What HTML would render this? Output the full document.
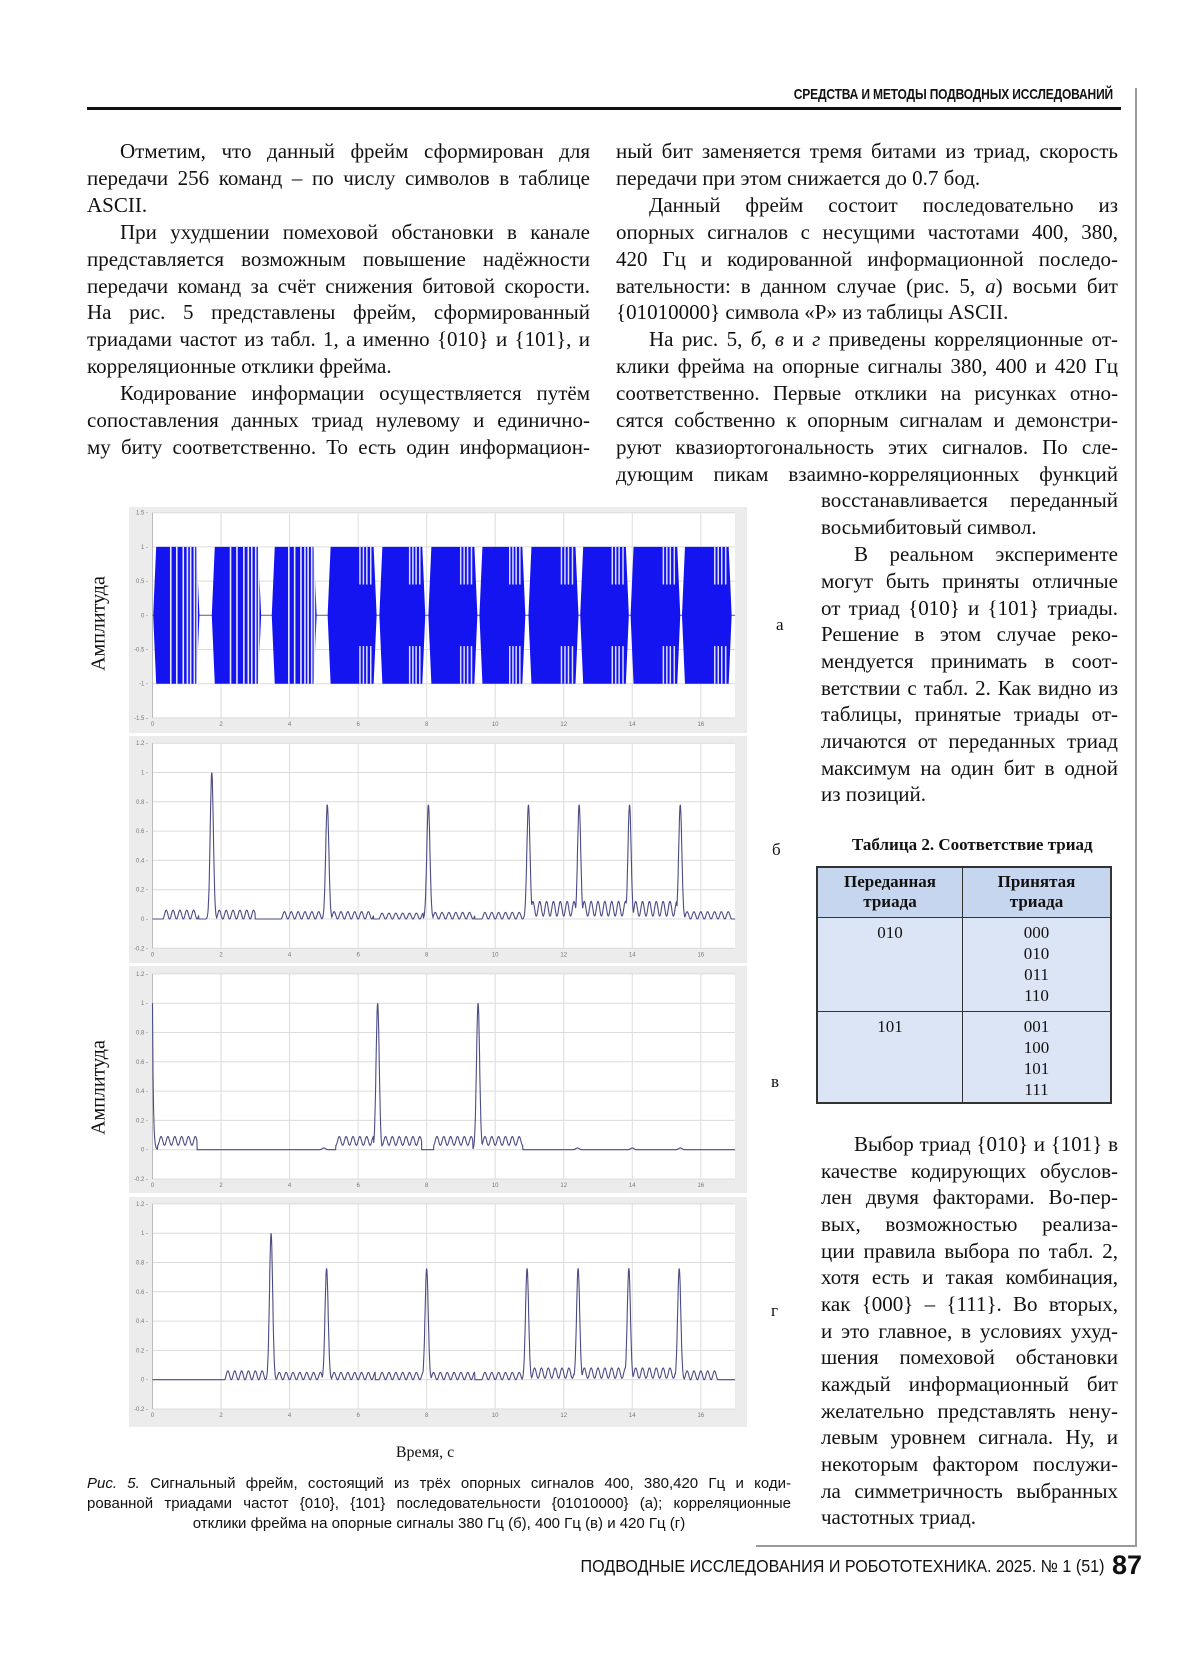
<!DOCTYPE html>
<html><head><meta charset="utf-8">
<style>
html,body{margin:0;padding:0;background:#fff}
#pg{position:relative;width:1200px;height:1656px;overflow:hidden;font-family:"Liberation Serif","DejaVu Serif",serif;color:#111}
.l{position:absolute;height:27px;line-height:27px;font-size:21px;white-space:nowrap;text-align:justify;text-align-last:justify}
.n{text-align-last:left}
.c1{left:87px;width:503px}
.c1i{left:120px;width:470px}
.c2{left:616px;width:502px}
.c2i{left:649px;width:469px}
.c3{left:821px;width:297px}
.c3i{left:854px;width:264px}
.abs{position:absolute}
.cap{position:absolute;left:87px;width:704px;font-family:"Liberation Sans",sans-serif;font-size:15px;white-space:nowrap;text-align:justify;text-align-last:justify;line-height:20px}
table{border-collapse:collapse}
</style></head><body><div id="pg">

<div class="abs" style="right:87px;top:86px;font-family:'Liberation Sans',sans-serif;font-size:15px;font-weight:bold;transform:scaleX(.8);transform-origin:right center;white-space:nowrap;letter-spacing:-0.2px">СРЕДСТВА И МЕТОДЫ ПОДВОДНЫХ ИССЛЕДОВАНИЙ</div>
<div class="abs" style="left:87px;top:107px;width:1034px;height:3px;background:#111"></div>
<div class="abs" style="left:1135px;top:88px;width:2px;height:1459px;background:#9a9a9a"></div>
<div class="abs" style="left:756px;top:1545px;width:381px;height:2px;background:#9a9a9a"></div>

<div class="l c1i" style="top:138px">Отметим, что данный фрейм сформирован для</div>
<div class="l c1" style="top:165px">передачи 256 команд – по числу символов в таблице</div>
<div class="l c1 n" style="top:192px">ASCII.</div>
<div class="l c1i" style="top:219px">При ухудшении помеховой обстановки в канале</div>
<div class="l c1" style="top:246px">представляется возможным повышение надёжности</div>
<div class="l c1" style="top:273px">передачи команд за счёт снижения битовой скорости.</div>
<div class="l c1" style="top:299px">На рис. 5 представлены фрейм, сформированный</div>
<div class="l c1" style="top:326px">триадами частот из табл. 1, а именно {010} и {101}, и</div>
<div class="l c1 n" style="top:353px">корреляционные отклики фрейма.</div>
<div class="l c1i" style="top:380px">Кодирование информации осуществляется путём</div>
<div class="l c1" style="top:407px">сопоставления данных триад нулевому и единично-</div>
<div class="l c1" style="top:434px">му биту соответственно. То есть один информацион-</div>

<div class="l c2" style="top:138px">ный бит заменяется тремя битами из триад, скорость</div>
<div class="l c2 n" style="top:165px">передачи при этом снижается до 0.7 бод.</div>
<div class="l c2i" style="top:192px">Данный фрейм состоит последовательно из</div>
<div class="l c2" style="top:219px">опорных сигналов с несущими частотами 400, 380,</div>
<div class="l c2" style="top:246px">420 Гц и кодированной информационной последо-</div>
<div class="l c2" style="top:273px">вательности: в данном случае (рис. 5, <i>а</i>) восьми бит</div>
<div class="l c2 n" style="top:299px">{01010000} символа «P» из таблицы ASCII.</div>
<div class="l c2i" style="top:326px">На рис. 5, <i>б</i>, <i>в</i> и <i>г</i> приведены корреляционные от-</div>
<div class="l c2" style="top:353px">клики фрейма на опорные сигналы 380, 400 и 420 Гц</div>
<div class="l c2" style="top:380px">соответственно. Первые отклики на рисунках отно-</div>
<div class="l c2" style="top:407px">сятся собственно к опорным сигналам и демонстри-</div>
<div class="l c2" style="top:434px">руют квазиортогональность этих сигналов. По сле-</div>
<div class="l c2" style="top:461px">дующим пикам взаимно-корреляционных функций</div>
<div class="l c3" style="top:487px">восстанавливается переданный</div>
<div class="l c3 n" style="top:514px">восьмибитовый символ.</div>
<div class="l c3i" style="top:541px">В реальном эксперименте</div>
<div class="l c3" style="top:568px">могут быть приняты отличные</div>
<div class="l c3" style="top:595px">от триад {010} и {101} триады.</div>
<div class="l c3" style="top:621px">Решение в этом случае реко-</div>
<div class="l c3" style="top:648px">мендуется принимать в соот-</div>
<div class="l c3" style="top:675px">ветствии с табл. 2. Как видно из</div>
<div class="l c3" style="top:701px">таблицы, принятые триады от-</div>
<div class="l c3" style="top:728px">личаются от переданных триад</div>
<div class="l c3" style="top:755px">максимум на один бит в одной</div>
<div class="l c3 n" style="top:781px">из позиций.</div>

<div class="abs" style="left:852px;top:835px;font-size:17px;font-weight:bold;white-space:nowrap">Таблица 2. Соответствие триад</div>
<table class="abs" style="left:816px;top:866px;width:296px;height:238px;font-size:17px;border:2px solid #333">
<tr style="height:50px;background:#c6d6ef"><td style="width:142px;border:1.5px solid #333;text-align:center;font-weight:bold;line-height:20px">Переданная<br>триада</td><td style="border:1.5px solid #333;text-align:center;font-weight:bold;line-height:20px">Принятая<br>триада</td></tr>
<tr style="height:94px;background:#dce5f6"><td style="border:1.5px solid #333;text-align:center;vertical-align:top;padding-top:4px;line-height:21px">010</td><td style="border:1.5px solid #333;text-align:center;vertical-align:top;padding-top:4px;line-height:21px">000<br>010<br>011<br>110</td></tr>
<tr style="background:#dce5f6"><td style="border:1.5px solid #333;text-align:center;vertical-align:top;padding-top:4px;line-height:21px">101</td><td style="border:1.5px solid #333;text-align:center;vertical-align:top;padding-top:4px;line-height:21px">001<br>100<br>101<br>111</td></tr>
</table>

<div class="l c3i" style="top:1131px">Выбор триад {010} и {101} в</div>
<div class="l c3" style="top:1158px">качестве кодирующих обуслов-</div>
<div class="l c3" style="top:1184px">лен двумя факторами. Во-пер-</div>
<div class="l c3" style="top:1211px">вых, возможностью реализа-</div>
<div class="l c3" style="top:1238px">ции правила выбора по табл. 2,</div>
<div class="l c3" style="top:1264px">хотя есть и такая комбинация,</div>
<div class="l c3" style="top:1291px">как {000} – {111}. Во вторых,</div>
<div class="l c3" style="top:1318px">и это главное, в условиях ухуд-</div>
<div class="l c3" style="top:1344px">шения помеховой обстановки</div>
<div class="l c3" style="top:1371px">каждый информационный бит</div>
<div class="l c3" style="top:1398px">желательно представлять нену-</div>
<div class="l c3" style="top:1424px">левым уровнем сигнала. Ну, и</div>
<div class="l c3" style="top:1451px">некоторым фактором послужи-</div>
<div class="l c3" style="top:1478px">ла симметричность выбранных</div>
<div class="l c3 n" style="top:1504px">частотных триад.</div>

<svg id="f" class="abs" style="left:0;top:0" width="1200" height="1656" viewBox="0 0 1200 1656"></svg>

<div class="abs" style="left:776px;top:615px;font-size:17px">а</div>
<div class="abs" style="left:772px;top:840px;font-size:17px">б</div>
<div class="abs" style="left:771px;top:1072px;font-size:17px">в</div>
<div class="abs" style="left:771px;top:1301px;font-size:17px">г</div>
<div class="abs" style="left:39px;top:612px;width:120px;text-align:center;font-size:20px;transform:rotate(-90deg)">Амплитуда</div>
<div class="abs" style="left:39px;top:1076px;width:120px;text-align:center;font-size:20px;transform:rotate(-90deg)">Амплитуда</div>
<div class="abs" style="left:365px;top:1444px;width:120px;text-align:center;font-size:16px">Время, с</div>

<div class="cap" style="top:1474px"><i>Рис. 5.</i> Сигнальный фрейм, состоящий из трёх опорных сигналов 400, 380,420 Гц и коди-</div>
<div class="cap" style="top:1494px">рованной триадами частот {010}, {101} последовательности {01010000} (а); корреляционные</div>
<div class="cap" style="top:1514px;text-align:center;text-align-last:center">отклики фрейма на опорные сигналы 380 Гц (б), 400 Гц (в) и 420 Гц (г)</div>

<div class="abs" style="right:96px;top:1556px;font-family:'Liberation Sans',sans-serif;font-size:17.5px;white-space:nowrap;transform:scaleX(.92);transform-origin:right center">ПОДВОДНЫЕ ИССЛЕДОВАНИЯ И РОБОТОТЕХНИКА. 2025. № 1 (51)</div>
<div class="abs" style="left:1112px;top:1550px;font-family:'Liberation Sans',sans-serif;font-size:27px;font-weight:bold">87</div>

<script>
(function(){
var s='';
function X(d){return 152.5+d*34.27;}
var P=[
 {top:507,bot:733,y0:615.3,k:68.4,t:[1.5,1,0.5,0,-0.5,-1,-1.5],lb:['1.5','1','0.5','0','-0.5','-1','-1.5']},
 {top:736,bot:963,y0:919,k:146.5,t:[1.2,1,.8,.6,.4,.2,0,-.2],lb:['1.2','1','0.8','0.6','0.4','0.2','0','-0.2']},
 {top:966,bot:1193,y0:1149.7,k:146.5,t:[1.2,1,.8,.6,.4,.2,0,-.2],lb:['1.2','1','0.8','0.6','0.4','0.2','0','-0.2']},
 {top:1197,bot:1427,y0:1379.7,k:146.5,t:[1.2,1,.8,.6,.4,.2,0,-.2],lb:['1.2','1','0.8','0.6','0.4','0.2','0','-0.2']}
];
P.forEach(function(p){
 var pt=p.y0-p.t[0]*p.k, pb=p.y0-p.t[p.t.length-1]*p.k;
 s+='<rect x="129" y="'+p.top+'" width="618" height="'+(p.bot-p.top)+'" fill="#ececec"/>';
 s+='<rect x="152.5" y="'+pt+'" width="582.5" height="'+(pb-pt)+'" fill="#fff"/>';
 for(var i=0;i<=16;i+=2){var x=X(i);s+='<line x1="'+x+'" y1="'+pt+'" x2="'+x+'" y2="'+pb+'" stroke="#dcdcdc" stroke-width="1"/>';
  s+='<text x="'+x+'" y="'+(pb+8)+'" font-size="6" fill="#777" text-anchor="middle" font-family="Liberation Sans,sans-serif">'+i+'</text>';}
 p.t.forEach(function(v,j){var y=p.y0-v*p.k;s+='<line x1="152.5" y1="'+y+'" x2="735" y2="'+y+'" stroke="#dcdcdc" stroke-width="1"/>';
  s+='<text x="148" y="'+(y+2)+'" font-size="6" fill="#777" text-anchor="end" font-family="Liberation Sans,sans-serif">'+p.lb[j]+' -</text>';});
 s+='<line x1="152.5" y1="'+pt+'" x2="152.5" y2="'+pb+'" stroke="#bbb"/>';
});
var a=P[0];function YA(v){return a.y0-v*a.k;}
s+='<line x1="'+X(0)+'" y1="'+YA(0)+'" x2="'+X(17)+'" y2="'+YA(0)+'" stroke="#777" stroke-width="1.2"/>';
var B=[[0.02,1.37,0],[1.73,3.17,0],[3.48,4.79,0],[5.11,6.54,1],[6.62,7.96,1],[8.05,9.48,1],[9.54,10.88,1],[10.97,12.43,1],[12.48,13.9,1],[13.95,15.4,1],[15.45,16.9,1]];
B.forEach(function(b){
 var x1=X(b[0]),x2=X(b[1]),e=3;
 s+='<polygon points="'+x1+','+YA(0)+' '+(x1+e)+','+YA(1)+' '+(x2-e)+','+YA(1)+' '+x2+','+YA(0)+' '+(x2-e)+','+YA(-1)+' '+(x1+e)+','+YA(-1)+'" fill="#1414f0"/>';
 var fr=b[2]?[.66,.73,.8,.88]:[.38,.51,.65,.74,.81,.89,.95];
 fr.forEach(function(f){var x=x1+(x2-x1)*f;
  if(b[2]){s+='<line x1="'+x+'" y1="'+YA(1)+'" x2="'+x+'" y2="'+YA(0.45)+'" stroke="#fff" stroke-width="1.5" opacity=".85"/><line x1="'+x+'" y1="'+YA(-0.45)+'" x2="'+x+'" y2="'+YA(-1)+'" stroke="#fff" stroke-width="1.5" opacity=".85"/>';}
  else s+='<line x1="'+x+'" y1="'+YA(1)+'" x2="'+x+'" y2="'+YA(-1)+'" stroke="#fff" stroke-width="1.6" opacity=".9"/>';});
});
function curve(p,peaks,rip,init){
 var pts=[];
 for(var d=0;d<=17;d+=0.008){
  var v=0;
  rip.forEach(function(r){if(d>=r[0]&&d<=r[1]){var u=r[2]*(0.5-0.5*Math.cos(2*Math.PI*(d-r[0])/0.2));v=Math.max(v,u+(r[3]||0));}});
  peaks.forEach(function(k){var g=k[1]*Math.exp(-Math.pow((d-k[0])/0.065,2));if(g>v)v=g;});
  if(init){var g=Math.exp(-d/0.025);if(g>v)v=g;}
  pts.push(X(d).toFixed(1)+','+(p.y0-v*p.k).toFixed(1));
 }
 s+='<polyline points="'+pts.join(' ')+'" fill="none" stroke="#4b4b86" stroke-width="1.1"/>';
}
curve(P[1],[[1.73,1],[5.1,.78],[8.05,.78],[10.97,.78],[12.45,.78],[13.92,.78],[15.4,.78]],
 [[0.3,1.35,.06],[1.85,3.0,.06],[3.75,5.0,.05],[5.2,6.45,.05],[6.6,7.9,.04],[8.15,9.4,.045],[9.6,10.85,.045],[11.0,12.4,.1,.02],[12.5,13.85,.1,.02],[14.0,15.3,.1,.02],[15.5,16.9,.05]]);
curve(P[2],[[6.57,1],[9.5,1],[5.0,.012],[12.4,.012],[14.0,.012],[15.4,.012]],
 [[0.15,1.3,.06,.03],[5.35,6.45,.06,.03],[6.7,7.85,.06,.03],[8.2,9.35,.06,.03],[9.6,10.8,.06,.03]],true);
curve(P[3],[[3.46,1],[5.08,.76],[8.0,.76],[10.93,.76],[12.42,.76],[13.9,.76],[15.37,.76]],
 [[2.1,3.35,.06],[3.6,4.95,.05],[5.2,6.5,.05],[6.6,7.9,.05],[8.1,9.4,.05],[9.6,10.8,.05],[11.05,12.3,.07,.01],[12.5,13.8,.07,.01],[14.0,15.25,.07,.01],[15.5,16.5,.06]]);
document.getElementById('f').innerHTML=s;
})();
</script>
</div></body></html>
